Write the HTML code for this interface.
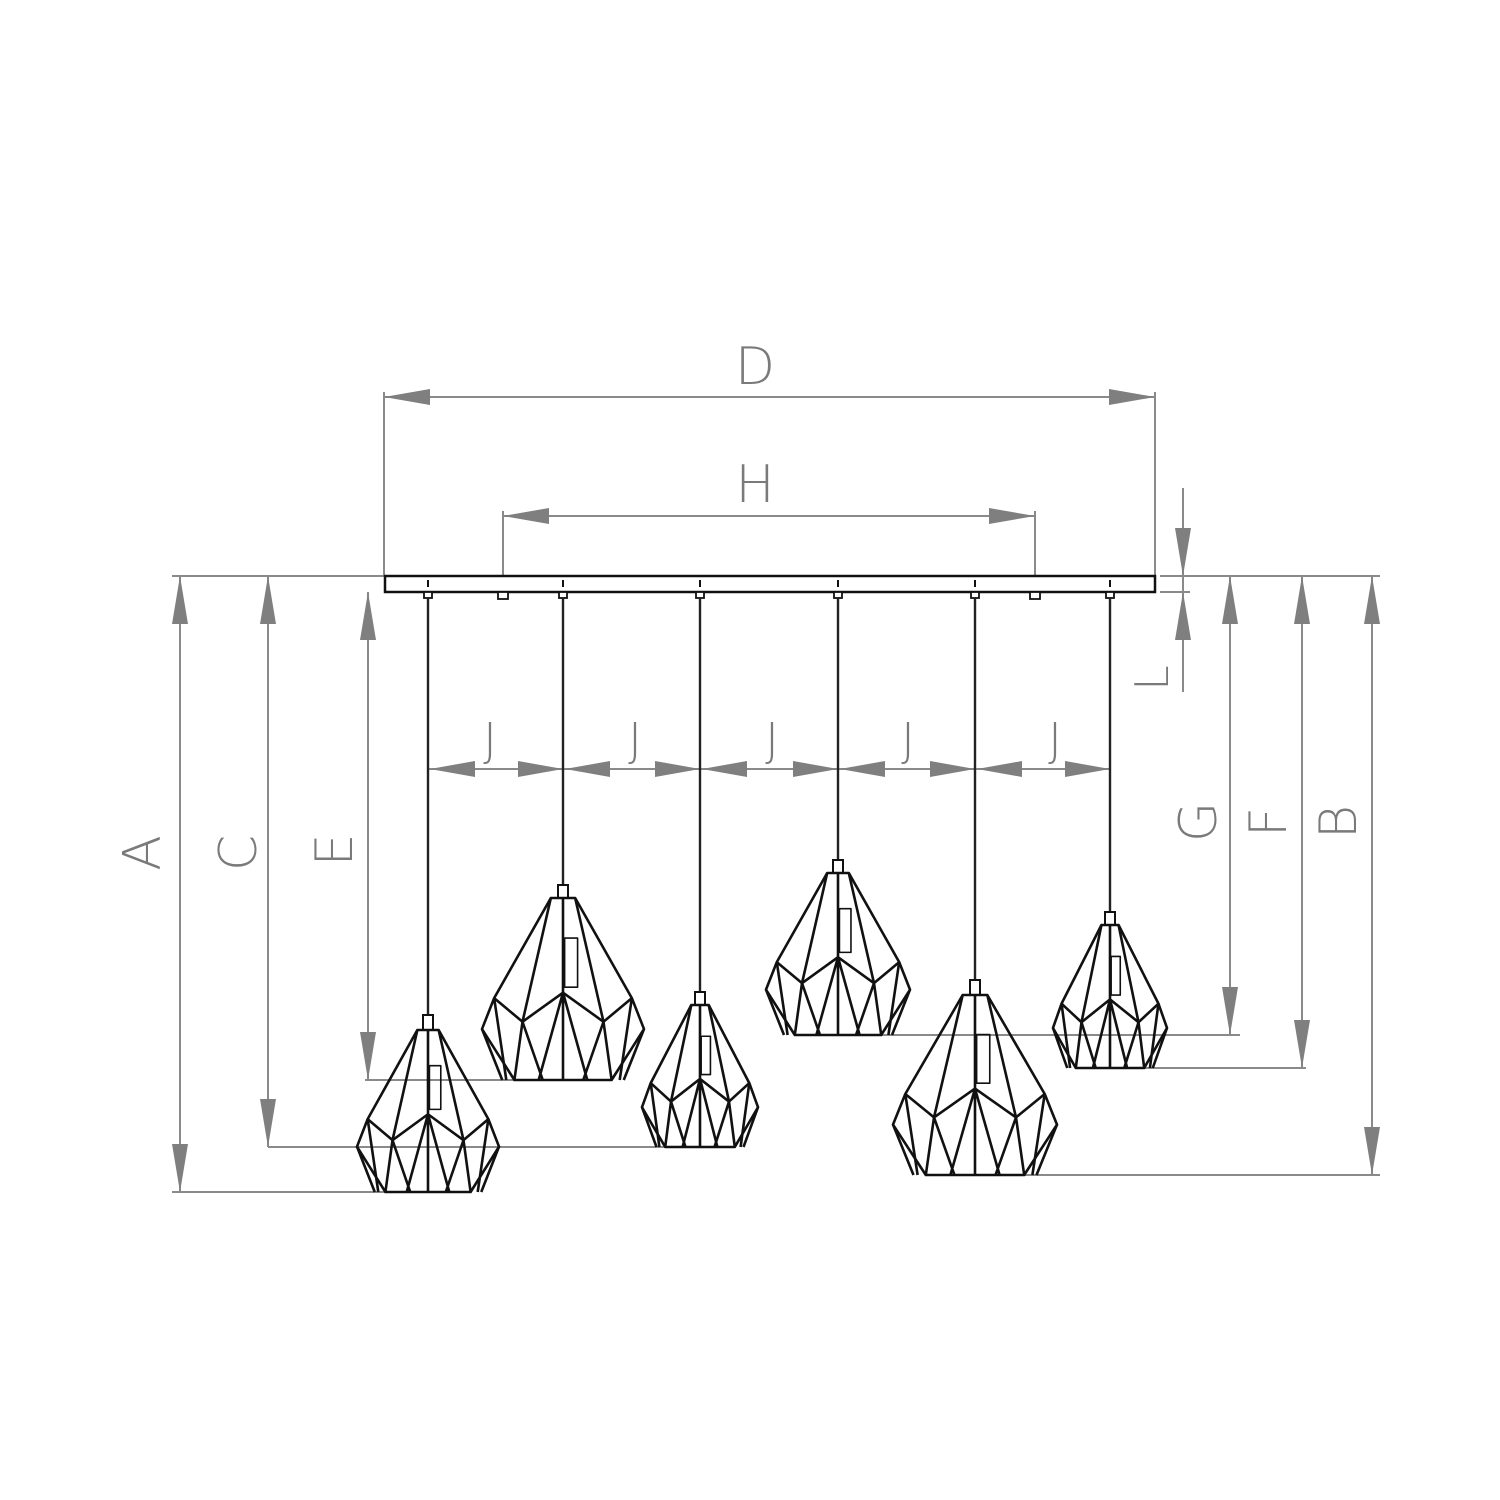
<!DOCTYPE html>
<html><head><meta charset="utf-8"><style>
html,body{margin:0;padding:0;background:#fff;}
svg{display:block;}
text{font-family:"DejaVu Sans","Liberation Sans",sans-serif;font-weight:300;fill:#7a7a7a;font-size:52px;}
</style></head><body>
<svg width="1500" height="1500" viewBox="0 0 1500 1500" xmlns="http://www.w3.org/2000/svg">
<defs>
<g id="shade" fill="none" stroke="#111" stroke-width="2.6" stroke-linejoin="round">
<path vector-effect="non-scaling-stroke" d="M-0.15,0 L-0.85,0.55 L-1,0.72 L-0.6,1 L0.6,1 L1,0.72 L0.85,0.55 L0.15,0 Z"/>
<path vector-effect="non-scaling-stroke" d="M-0.15,0 L-0.5,0.68 M0.15,0 L0.5,0.68 M0,0 L0,1 M-0.85,0.55 L-0.5,0.68 L0,0.52 L0.5,0.68 L0.85,0.55 M-0.5,0.68 L-0.6,1 M-1,0.72 L-0.75,1 M-0.85,0.55 L-0.7,1 M0,0.52 L-0.3,1 M0,0.52 L0.3,1 M0.5,0.68 L0.6,1 M1,0.72 L0.75,1 M0.85,0.55 L0.7,1 M-0.5,0.68 L-0.25,1 M0.5,0.68 L0.25,1"/>
<rect vector-effect="non-scaling-stroke" x="0.02" y="0.22" width="0.16" height="0.27" stroke-width="1.6"/>
</g>
</defs>
<g stroke="#8a8a8a" stroke-width="2" fill="none">
<!-- D -->
<line x1="384" y1="397" x2="1155" y2="397"/>
<line x1="384" y1="392" x2="384" y2="576"/>
<line x1="1155" y1="392" x2="1155" y2="576"/>
<!-- H -->
<line x1="503" y1="516" x2="1035" y2="516"/>
<line x1="503" y1="511" x2="503" y2="595"/>
<line x1="1035" y1="511" x2="1035" y2="595"/>
<!-- L -->
<line x1="1183" y1="488" x2="1183" y2="692"/>
<line x1="1160" y1="592" x2="1190" y2="592"/>
<!-- J -->
<line x1="428" y1="769" x2="1110" y2="769"/>
<!-- left ext -->
<line x1="172" y1="576" x2="384" y2="576"/>
<line x1="172" y1="1192" x2="428" y2="1192"/>
<line x1="268" y1="1147" x2="735" y2="1147"/>
<line x1="365" y1="1080" x2="563" y2="1080"/>
<line x1="180" y1="576" x2="180" y2="1192"/>
<line x1="268" y1="576" x2="268" y2="1147"/>
<line x1="368" y1="592" x2="368" y2="1080"/>
<!-- right ext -->
<line x1="1160" y1="576" x2="1380" y2="576"/>
<line x1="838" y1="1035" x2="1240" y2="1035"/>
<line x1="1110" y1="1068" x2="1306" y2="1068"/>
<line x1="975" y1="1175" x2="1380" y2="1175"/>
<line x1="1230" y1="576" x2="1230" y2="1035"/>
<line x1="1302" y1="576" x2="1302" y2="1068"/>
<line x1="1372" y1="576" x2="1372" y2="1175"/>
</g>
<g fill="#7f7f7f">
<polygon points="384,397 430,389 430,405"/><polygon points="1155,397 1109,389 1109,405"/>
<polygon points="503,516 549,508 549,524"/><polygon points="1035,516 989,508 989,524"/>
<polygon points="1183,576 1175,528 1191,528"/><polygon points="1183,592 1175,640 1191,640"/>
<!-- J arrows -->
<polygon points="430,769 475,761 475,777"/><polygon points="563,769 518,761 518,777"/>
<polygon points="565,769 610,761 610,777"/><polygon points="700,769 655,761 655,777"/>
<polygon points="702,769 747,761 747,777"/><polygon points="838,769 793,761 793,777"/>
<polygon points="840,769 885,761 885,777"/><polygon points="975,769 930,761 930,777"/>
<polygon points="977,769 1022,761 1022,777"/><polygon points="1110,769 1065,761 1065,777"/>
<!-- vertical -->
<polygon points="180,576 172,624 188,624"/><polygon points="180,1192 172,1144 188,1144"/>
<polygon points="268,576 260,624 276,624"/><polygon points="268,1147 260,1099 276,1099"/>
<polygon points="368,592 360,640 376,640"/><polygon points="368,1080 360,1032 376,1032"/>
<polygon points="1230,576 1222,624 1238,624"/><polygon points="1230,1035 1222,987 1238,987"/>
<polygon points="1302,576 1294,624 1310,624"/><polygon points="1302,1068 1294,1020 1310,1020"/>
<polygon points="1372,576 1364,624 1380,624"/><polygon points="1372,1175 1364,1127 1380,1127"/>
</g>
<!-- bar -->
<rect x="385" y="576" width="770" height="16" fill="#fff" stroke="#111" stroke-width="2.5"/>
<g stroke="#111" stroke-width="2">
<line x1="428" y1="580" x2="428" y2="587"/><line x1="563" y1="580" x2="563" y2="587"/>
<line x1="700" y1="580" x2="700" y2="587"/><line x1="838" y1="580" x2="838" y2="587"/>
<line x1="975" y1="580" x2="975" y2="587"/><line x1="1110" y1="580" x2="1110" y2="587"/>
</g>
<g fill="#fff" stroke="#111" stroke-width="1.8">
<rect x="498" y="592" width="10" height="7"/><rect x="1030" y="592" width="10" height="7"/>
<rect x="424" y="592" width="8" height="6"/><rect x="559" y="592" width="8" height="6"/>
<rect x="696" y="592" width="8" height="6"/><rect x="834" y="592" width="8" height="6"/>
<rect x="971" y="592" width="8" height="6"/><rect x="1106" y="592" width="8" height="6"/>
</g>
<!-- cords -->
<g stroke="#222" stroke-width="2.4">
<line x1="428" y1="598" x2="428" y2="1015"/>
<line x1="563" y1="598" x2="563" y2="885"/>
<line x1="700" y1="598" x2="700" y2="992"/>
<line x1="838" y1="598" x2="838" y2="860"/>
<line x1="975" y1="598" x2="975" y2="980"/>
<line x1="1110" y1="598" x2="1110" y2="912"/>
</g>
<g fill="#fff" stroke="#111" stroke-width="2">
<rect x="423" y="1015" width="10" height="15"/>
<rect x="558" y="885" width="10" height="13"/>
<rect x="695" y="992" width="10" height="13"/>
<rect x="833" y="860" width="10" height="13"/>
<rect x="970" y="980" width="10" height="15"/>
<rect x="1105" y="912" width="10" height="13"/>
</g>
<use href="#shade" transform="translate(428,1030) scale(71,162)"/>
<use href="#shade" transform="translate(563,898) scale(81,182)"/>
<use href="#shade" transform="translate(700,1005) scale(58,142)"/>
<use href="#shade" transform="translate(838,873) scale(72,162)"/>
<use href="#shade" transform="translate(975,995) scale(82,180)"/>
<use href="#shade" transform="translate(1110,925) scale(57,143)"/>
<!-- labels -->
<text x="755" y="384" text-anchor="middle">D</text>
<text x="755" y="502" text-anchor="middle">H</text>
<g font-size="46">
<text x="490" y="756" text-anchor="middle" style="font-size:46px">J</text>
<text x="635" y="756" text-anchor="middle" style="font-size:46px">J</text>
<text x="772" y="756" text-anchor="middle" style="font-size:46px">J</text>
<text x="908" y="756" text-anchor="middle" style="font-size:46px">J</text>
<text x="1055" y="756" text-anchor="middle" style="font-size:46px">J</text>
</g>
<text transform="translate(160,853) rotate(-90)" text-anchor="middle">A</text>
<text transform="translate(256,853) rotate(-90)" text-anchor="middle">C</text>
<text transform="translate(352,850) rotate(-90)" text-anchor="middle">E</text>
<text transform="translate(1168,678) rotate(-90)" text-anchor="middle" style="font-size:46px">L</text>
<text transform="translate(1216,822) rotate(-90)" text-anchor="middle">G</text>
<text transform="translate(1286,822) rotate(-90)" text-anchor="middle">F</text>
<text transform="translate(1356,822) rotate(-90)" text-anchor="middle">B</text>
</svg>
</body></html>
